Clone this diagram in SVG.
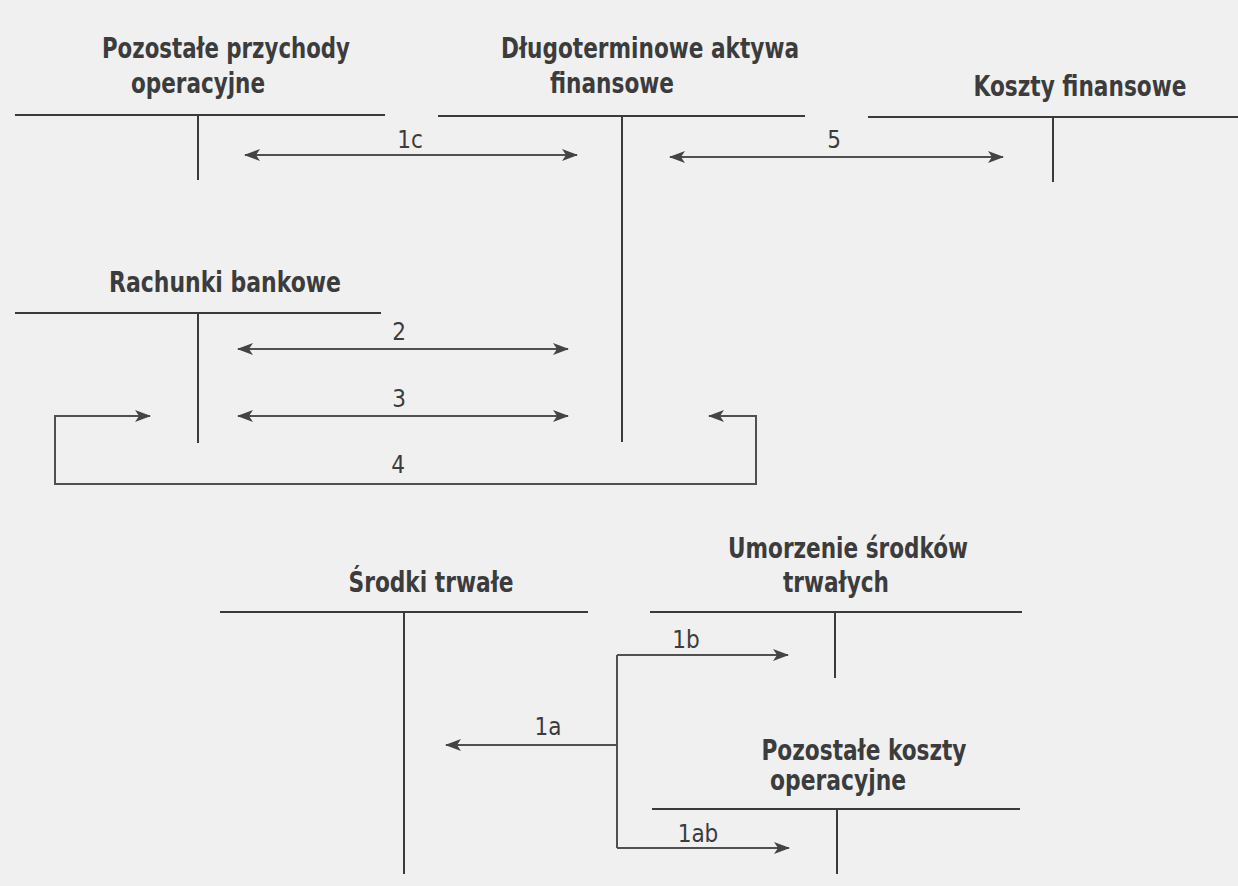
<svg xmlns="http://www.w3.org/2000/svg" width="1238" height="886" viewBox="0 0 1238 886">
<style>
.t{font-family:"DejaVu Sans Condensed","Liberation Sans",sans-serif;font-size:28px;font-weight:bold;fill:#3c3c3c;text-anchor:middle}
.l{font-family:"DejaVu Sans Condensed","Liberation Sans",sans-serif;font-size:24px;fill:#3c3c3c;text-anchor:middle}
.a{stroke:#3a3a3a;stroke-width:2;fill:none}
.c{stroke:#505050;stroke-width:2;fill:none}
</style>
<defs>
<marker id="ah" viewBox="0 0 16 12" refX="15" refY="6" markerWidth="16" markerHeight="12" markerUnits="userSpaceOnUse" orient="auto-start-reverse">
<path d="M0,0 L16,6 L0,12 L4,6 Z" fill="#444"/>
</marker>
</defs>
<rect width="1238" height="886" fill="#f0f0f0"/>
<g id="pozostale-przychody">
<text class="t" x="226" y="58" textLength="248" lengthAdjust="spacingAndGlyphs">Pozostałe przychody</text>
<text class="t" x="198" y="93" textLength="134" lengthAdjust="spacingAndGlyphs">operacyjne</text>
<path class="a" d="M15,115 H385 M198,115 V180"/>
</g>
<g id="dlugoterminowe">
<text class="t" x="650" y="58" textLength="298" lengthAdjust="spacingAndGlyphs">Długoterminowe aktywa</text>
<text class="t" x="612" y="93" textLength="124" lengthAdjust="spacingAndGlyphs">finansowe</text>
<path class="a" d="M438,116 H805 M622,116 V442"/>
</g>
<g id="koszty-finansowe">
<text class="t" x="1080" y="96" textLength="213" lengthAdjust="spacingAndGlyphs">Koszty finansowe</text>
<path class="a" d="M868,117 H1238 M1053,117 V182"/>
</g>
<g id="rachunki-bankowe">
<text class="t" x="225" y="292" textLength="232" lengthAdjust="spacingAndGlyphs">Rachunki bankowe</text>
<path class="a" d="M15,313 H381 M198,313 V443"/>
</g>
<g id="srodki-trwale">
<text class="t" x="431" y="592" textLength="165" lengthAdjust="spacingAndGlyphs">Środki trwałe</text>
<path class="a" d="M220,612 H588 M404,612 V874"/>
</g>
<g id="umorzenie">
<text class="t" x="848" y="558" textLength="240" lengthAdjust="spacingAndGlyphs">Umorzenie środków</text>
<text class="t" x="836" y="592" textLength="106" lengthAdjust="spacingAndGlyphs">trwałych</text>
<path class="a" d="M650,612 H1022 M835,612 V678"/>
</g>
<g id="pozostale-koszty">
<text class="t" x="864" y="760" textLength="205" lengthAdjust="spacingAndGlyphs">Pozostałe koszty</text>
<text class="t" x="838" y="790" textLength="136" lengthAdjust="spacingAndGlyphs">operacyjne</text>
<path class="a" d="M652,809 H1020 M837,809 V874"/>
</g>
<g id="connectors">
<path class="c" d="M245,155 H577" marker-start="url(#ah)" marker-end="url(#ah)"/>
<text class="l" x="410" y="148">1c</text>
<path class="c" d="M670,157 H1003" marker-start="url(#ah)" marker-end="url(#ah)"/>
<text class="l" x="834" y="148">5</text>
<path class="c" d="M238,349 H568" marker-start="url(#ah)" marker-end="url(#ah)"/>
<text class="l" x="399" y="340">2</text>
<path class="c" d="M238,416 H568" marker-start="url(#ah)" marker-end="url(#ah)"/>
<text class="l" x="399" y="407">3</text>
<path class="c" d="M709,416 H756 V484 H55 V416 H150" marker-start="url(#ah)" marker-end="url(#ah)"/>
<text class="l" x="398" y="473">4</text>
<path class="c" d="M617,655 V848"/>
<path class="c" d="M617,655 H788" marker-end="url(#ah)"/>
<text class="l" x="686" y="648">1b</text>
<path class="c" d="M617,745 H446" marker-end="url(#ah)"/>
<text class="l" x="548" y="735">1a</text>
<path class="c" d="M617,848 H789" marker-end="url(#ah)"/>
<text class="l" x="698" y="842">1ab</text>
</g>
</svg>
